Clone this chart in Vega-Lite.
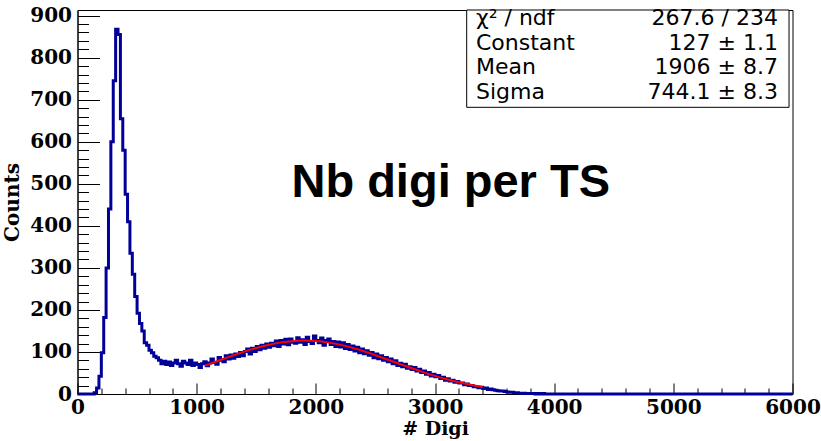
{
  "$schema": "https://vega.github.io/schema/vega-lite/v6.json",
  "width": 715,
  "height": 384,
  "autosize": {"type": "none"},
  "padding": {"left": 77.5, "top": 10, "right": 28.5, "bottom": 47},
  "background": "white",
  "config": {
    "view": {"stroke": "#000000", "strokeWidth": 1},
    "axis": {
      "grid": false,
      "domainColor": "#000000",
      "domainWidth": 1,
      "tickColor": "#000000",
      "tickWidth": 1,
      "labelFont": "DejaVu Serif",
      "labelFontWeight": "bold",
      "labelFontSize": 20,
      "labelColor": "#000000",
      "titleFont": "DejaVu Serif",
      "titleFontWeight": "bold",
      "titleFontSize": 20,
      "titleColor": "#000000"
    }
  },
  "resolve": {"axis": {"x": "independent", "y": "independent"}},
  "datasets": {
    "hist": [
      {"digi": 0, "counts": 0}, {"digi": 140, "counts": 3}, {"digi": 160, "counts": 14}, {"digi": 180, "counts": 42},
      {"digi": 200, "counts": 98}, {"digi": 220, "counts": 182}, {"digi": 240, "counts": 300}, {"digi": 260, "counts": 440},
      {"digi": 280, "counts": 600}, {"digi": 300, "counts": 745}, {"digi": 320, "counts": 868}, {"digi": 340, "counts": 855},
      {"digi": 360, "counts": 655}, {"digi": 380, "counts": 580}, {"digi": 400, "counts": 475}, {"digi": 420, "counts": 410},
      {"digi": 440, "counts": 335}, {"digi": 460, "counts": 285}, {"digi": 480, "counts": 232}, {"digi": 500, "counts": 192},
      {"digi": 520, "counts": 168}, {"digi": 540, "counts": 150}, {"digi": 560, "counts": 122}, {"digi": 580, "counts": 116},
      {"digi": 600, "counts": 104}, {"digi": 620, "counts": 98}, {"digi": 640, "counts": 90}, {"digi": 660, "counts": 86},
      {"digi": 680, "counts": 80}, {"digi": 700, "counts": 72}, {"digi": 720, "counts": 78}, {"digi": 740, "counts": 70},
      {"digi": 760, "counts": 76}, {"digi": 780, "counts": 68}, {"digi": 800, "counts": 74}, {"digi": 820, "counts": 80},
      {"digi": 840, "counts": 72}, {"digi": 860, "counts": 66}, {"digi": 880, "counts": 78}, {"digi": 900, "counts": 74},
      {"digi": 920, "counts": 70}, {"digi": 940, "counts": 80}, {"digi": 960, "counts": 68}, {"digi": 980, "counts": 74},
      {"digi": 1000, "counts": 70}, {"digi": 1020, "counts": 63}, {"digi": 1040, "counts": 72}, {"digi": 1060, "counts": 77},
      {"digi": 1080, "counts": 67}, {"digi": 1100, "counts": 74}, {"digi": 1120, "counts": 83}, {"digi": 1140, "counts": 75},
      {"digi": 1160, "counts": 71}, {"digi": 1180, "counts": 87}, {"digi": 1200, "counts": 80}, {"digi": 1220, "counts": 77},
      {"digi": 1240, "counts": 91}, {"digi": 1260, "counts": 83}, {"digi": 1280, "counts": 93}, {"digi": 1300, "counts": 85},
      {"digi": 1320, "counts": 95}, {"digi": 1340, "counts": 89}, {"digi": 1360, "counts": 99}, {"digi": 1380, "counts": 91},
      {"digi": 1400, "counts": 101}, {"digi": 1420, "counts": 107}, {"digi": 1440, "counts": 95}, {"digi": 1460, "counts": 109},
      {"digi": 1480, "counts": 101}, {"digi": 1500, "counts": 113}, {"digi": 1520, "counts": 105}, {"digi": 1540, "counts": 116},
      {"digi": 1560, "counts": 109}, {"digi": 1580, "counts": 119}, {"digi": 1600, "counts": 111}, {"digi": 1620, "counts": 121},
      {"digi": 1640, "counts": 115}, {"digi": 1660, "counts": 126}, {"digi": 1680, "counts": 113}, {"digi": 1700, "counts": 127},
      {"digi": 1720, "counts": 119}, {"digi": 1740, "counts": 130}, {"digi": 1760, "counts": 117}, {"digi": 1780, "counts": 131},
      {"digi": 1800, "counts": 123}, {"digi": 1820, "counts": 121}, {"digi": 1840, "counts": 134}, {"digi": 1860, "counts": 123},
      {"digi": 1880, "counts": 129}, {"digi": 1900, "counts": 118}, {"digi": 1920, "counts": 135}, {"digi": 1940, "counts": 125},
      {"digi": 1960, "counts": 120}, {"digi": 1980, "counts": 138}, {"digi": 2000, "counts": 127}, {"digi": 2020, "counts": 122},
      {"digi": 2040, "counts": 133}, {"digi": 2060, "counts": 116}, {"digi": 2080, "counts": 127}, {"digi": 2100, "counts": 131},
      {"digi": 2120, "counts": 118}, {"digi": 2140, "counts": 125}, {"digi": 2160, "counts": 113}, {"digi": 2180, "counts": 124},
      {"digi": 2200, "counts": 112}, {"digi": 2220, "counts": 122}, {"digi": 2240, "counts": 108}, {"digi": 2260, "counts": 118},
      {"digi": 2280, "counts": 106}, {"digi": 2300, "counts": 114}, {"digi": 2320, "counts": 102}, {"digi": 2340, "counts": 111},
      {"digi": 2360, "counts": 98}, {"digi": 2380, "counts": 107}, {"digi": 2400, "counts": 96}, {"digi": 2420, "counts": 103},
      {"digi": 2440, "counts": 92}, {"digi": 2460, "counts": 99}, {"digi": 2480, "counts": 86}, {"digi": 2500, "counts": 95},
      {"digi": 2520, "counts": 84}, {"digi": 2540, "counts": 91}, {"digi": 2560, "counts": 80}, {"digi": 2580, "counts": 87},
      {"digi": 2600, "counts": 77}, {"digi": 2620, "counts": 83}, {"digi": 2640, "counts": 72}, {"digi": 2660, "counts": 79},
      {"digi": 2680, "counts": 68}, {"digi": 2700, "counts": 73}, {"digi": 2720, "counts": 65}, {"digi": 2740, "counts": 71},
      {"digi": 2760, "counts": 61}, {"digi": 2780, "counts": 65}, {"digi": 2800, "counts": 58}, {"digi": 2820, "counts": 63},
      {"digi": 2840, "counts": 55}, {"digi": 2860, "counts": 59}, {"digi": 2880, "counts": 51}, {"digi": 2900, "counts": 55},
      {"digi": 2920, "counts": 47}, {"digi": 2940, "counts": 51}, {"digi": 2960, "counts": 43}, {"digi": 2980, "counts": 47},
      {"digi": 3000, "counts": 41}, {"digi": 3020, "counts": 44}, {"digi": 3040, "counts": 37}, {"digi": 3060, "counts": 40},
      {"digi": 3080, "counts": 33}, {"digi": 3100, "counts": 36}, {"digi": 3120, "counts": 31}, {"digi": 3140, "counts": 33},
      {"digi": 3160, "counts": 28}, {"digi": 3180, "counts": 30}, {"digi": 3200, "counts": 26}, {"digi": 3220, "counts": 26},
      {"digi": 3240, "counts": 22}, {"digi": 3260, "counts": 24}, {"digi": 3280, "counts": 20}, {"digi": 3300, "counts": 20},
      {"digi": 3320, "counts": 17}, {"digi": 3340, "counts": 18}, {"digi": 3360, "counts": 15}, {"digi": 3380, "counts": 16},
      {"digi": 3400, "counts": 13}, {"digi": 3420, "counts": 14}, {"digi": 3440, "counts": 11}, {"digi": 3460, "counts": 12},
      {"digi": 3480, "counts": 10}, {"digi": 3500, "counts": 9}, {"digi": 3520, "counts": 8}, {"digi": 3540, "counts": 7},
      {"digi": 3560, "counts": 7}, {"digi": 3580, "counts": 6}, {"digi": 3600, "counts": 5}, {"digi": 3620, "counts": 4},
      {"digi": 3640, "counts": 4}, {"digi": 3660, "counts": 3}, {"digi": 3680, "counts": 3}, {"digi": 3700, "counts": 2},
      {"digi": 3720, "counts": 2}, {"digi": 3740, "counts": 2}, {"digi": 3760, "counts": 1}, {"digi": 3780, "counts": 1},
      {"digi": 3800, "counts": 1}, {"digi": 3820, "counts": 1}, {"digi": 3840, "counts": 0}, {"digi": 3860, "counts": 1},
      {"digi": 3880, "counts": 0}, {"digi": 3900, "counts": 1}, {"digi": 3920, "counts": 0}, {"digi": 6000, "counts": 0}
    ],
    "fit": [
      {"digi": 1070, "counts": 67.6}, {"digi": 1100, "counts": 70.6}, {"digi": 1200, "counts": 81.0}, {"digi": 1300, "counts": 91.2},
      {"digi": 1400, "counts": 100.8}, {"digi": 1500, "counts": 109.4}, {"digi": 1600, "counts": 116.7}, {"digi": 1700, "counts": 122.2},
      {"digi": 1800, "counts": 125.7}, {"digi": 1900, "counts": 127.0}, {"digi": 2000, "counts": 126.0}, {"digi": 2100, "counts": 122.8},
      {"digi": 2200, "counts": 117.5}, {"digi": 2300, "counts": 110.4}, {"digi": 2400, "counts": 101.9}, {"digi": 2500, "counts": 92.3},
      {"digi": 2600, "counts": 82.2}, {"digi": 2700, "counts": 71.9}, {"digi": 2800, "counts": 61.7}, {"digi": 2900, "counts": 52.0},
      {"digi": 3000, "counts": 43.1}, {"digi": 3100, "counts": 35.0}, {"digi": 3200, "counts": 28.0}, {"digi": 3300, "counts": 22.0},
      {"digi": 3400, "counts": 16.9}
    ]
  },
  "layer": [
    {
      "data": {"name": "hist"},
      "mark": {"type": "line", "interpolate": "step-after", "color": "#000099", "strokeWidth": 3},
      "encoding": {
        "x": {
          "field": "digi", "type": "quantitative",
          "scale": {"domain": [0, 6000], "nice": false, "zero": false},
          "axis": {
            "orient": "bottom",
            "title": "# Digi",
            "titleFontSize": 19,
            "values": [0, 1000, 2000, 3000, 4000, 5000, 6000],
            "format": "d",
            "tickSize": -11,
            "labelPadding": 14,
            "labelFlush": false,
            "labelOverlap": false,
            "titlePadding": 2
          }
        },
        "y": {
          "field": "counts", "type": "quantitative",
          "scale": {"domain": [0, 913.5], "nice": false},
          "axis": {
            "orient": "left",
            "title": "Counts",
            "values": [0, 100, 200, 300, 400, 500, 600, 700, 800, 900],
            "format": "d",
            "tickSize": -22,
            "labelPadding": 28,
            "labelFlush": false,
            "labelOverlap": false,
            "titlePadding": 7
          }
        }
      }
    },
    {
      "data": {"name": "fit"},
      "mark": {"type": "line", "interpolate": "monotone", "color": "#ff0000", "strokeWidth": 2},
      "encoding": {
        "x": {
          "field": "digi", "type": "quantitative",
          "axis": {
            "orient": "bottom", "title": null, "labels": false, "domain": false,
            "values": [200, 400, 600, 800, 1200, 1400, 1600, 1800, 2200, 2400, 2600, 2800, 3200, 3400, 3600, 3800, 4200, 4400, 4600, 4800, 5200, 5400, 5600, 5800],
            "tickSize": -6
          }
        },
        "y": {
          "field": "counts", "type": "quantitative",
          "axis": {
            "orient": "left", "title": null, "labels": false, "domain": false,
            "values": [20, 40, 60, 80, 120, 140, 160, 180, 220, 240, 260, 280, 320, 340, 360, 380, 420, 440, 460, 480, 520, 540, 560, 580, 620, 640, 660, 680, 720, 740, 760, 780, 820, 840, 860, 880],
            "tickSize": -11
          }
        }
      }
    },
    {
      "data": {"values": [{}]},
      "mark": {"type": "rect", "fill": "#ffffff", "stroke": "#000000", "strokeWidth": 1},
      "encoding": {
        "x": {"datum": 3266, "axis": null}, "x2": {"datum": 5971},
        "y": {"datum": 682, "axis": null}, "y2": {"datum": 913.5}
      }
    },
    {
      "data": {"values": [{}]},
      "mark": {"type": "text", "text": ["χ² / ndf", "Constant", "Mean", "Sigma"], "font": "DejaVu Sans", "fontSize": 22, "align": "left", "baseline": "alphabetic", "lineHeight": 24.5, "color": "#000000"},
      "encoding": {"x": {"datum": 3344, "axis": null}, "y": {"datum": 877.8, "axis": null}}
    },
    {
      "data": {"values": [{}]},
      "mark": {"type": "text", "text": ["267.6 / 234", "127 ± 1.1", "1906 ± 8.7", "744.1 ± 8.3"], "font": "DejaVu Sans", "fontSize": 22, "align": "right", "baseline": "alphabetic", "lineHeight": 24.5, "color": "#000000"},
      "encoding": {"x": {"datum": 5878, "axis": null}, "y": {"datum": 877.8, "axis": null}}
    },
    {
      "data": {"values": [{}]},
      "mark": {"type": "text", "text": "Nb digi per TS", "font": "Liberation Sans", "fontWeight": "bold", "fontSize": 47, "align": "center", "baseline": "alphabetic", "color": "#000000"},
      "encoding": {"x": {"datum": 3132, "axis": null}, "y": {"datum": 469, "axis": null}}
    }
  ]
}
